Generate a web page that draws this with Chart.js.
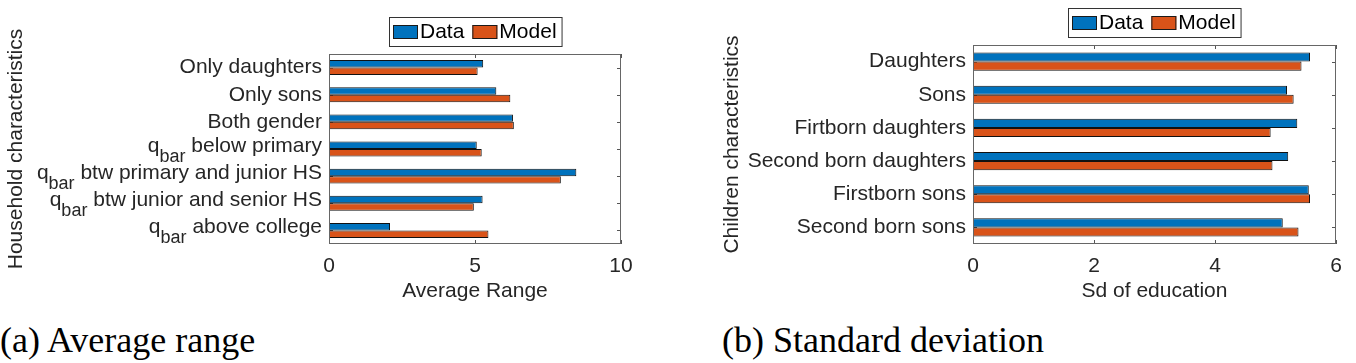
<!DOCTYPE html>
<html>
<head>
<meta charset="utf-8">
<script src="https://cdn.jsdelivr.net/npm/chart.js@4.4.1/dist/chart.umd.min.js"></script>
<style>
  body { margin: 0; background: #fff; width: 1356px; height: 363px; overflow: hidden; position: relative; }
  canvas { position: absolute; top: 0; }
  #left { left: 0; }
  #right { left: 678px; }
  .cap { position: absolute; top: 322px; font-family: 'Liberation Serif', serif; font-size: 36px; line-height: 36px; color: #000; white-space: nowrap; }
</style>
</head>
<body>
<canvas id="left" width="678" height="310"></canvas>
<canvas id="right" width="678" height="310"></canvas>
<div class="cap" style="left:0">(a) Average range</div>
<div class="cap" style="left:722px">(b) Standard deviation</div>
<script>
// values
const seriesNames = ['Data', 'Model'];

const householdGroups = ['Only daughters', 'Only sons', 'Both gender', 'q_bar below primary',
    'q_bar btw primary and junior HS', 'q_bar btw junior and senior HS', 'q_bar above college'];
const householdData = [5.28, 5.73, 6.30, 5.06, 8.47, 5.26, 2.09];
const householdModel = [5.09, 6.21, 6.33, 5.23, 7.94, 4.96, 5.46];
const householdTicks = [0, 5, 10];

const childGroups = ['Daughters', 'Sons', 'Firtborn daughters', 'Second born daughters',
    'Firstborn sons', 'Second born sons'];
const childData = [5.57, 5.19, 5.36, 5.21, 5.55, 5.12];
const childModel = [5.43, 5.30, 4.92, 4.95, 5.57, 5.38];
const childTicks = [0, 2, 4, 6];

const BLUE = '#0072BD';
const RED = '#D95319';
const FAMILY = "'Liberation Sans', Arial, sans-serif";
const MAIN = '21px ' + FAMILY;
const SUB = '18px ' + FAMILY;
const INK = '#262626';

Chart.defaults.font.family = FAMILY;
Chart.defaults.font.size = 21;
Chart.defaults.color = INK;

function drawCategory(ctx, label, xRight, y) {
    ctx.fillStyle = INK;
    ctx.textAlign = 'right';
    ctx.font = MAIN;
    if (!label.startsWith('q_bar ')) {
        ctx.textBaseline = 'middle';
        ctx.fillText(label, xRight, y);
        return;
    }
    // q with subscript "bar"
    ctx.textBaseline = 'alphabetic';
    const rest = ' ' + label.slice(6);
    const base = y + 3;
    ctx.fillText(rest, xRight, base);
    let x = xRight - ctx.measureText(rest).width;
    ctx.font = SUB;
    ctx.fillText('bar', x, base + 10);
    x -= ctx.measureText('bar').width;
    ctx.font = MAIN;
    ctx.fillText('q', x, base);
}

const matlabAxes = {
    id: 'matlabAxes',
    beforeDatasetsDraw(chart) {
        const {ctx, chartArea: a, scales} = chart;
        const L = Math.round(a.left), R = Math.round(a.right);
        const T = Math.round(a.top), B = Math.round(a.bottom);
        ctx.save();
        ctx.strokeStyle = '#555';
        ctx.lineWidth = 1;
        ctx.beginPath();
        scales.x.ticks.forEach(t => {
            const px = Math.round(scales.x.getPixelForValue(t.value)) + 0.5;
            ctx.moveTo(px, T); ctx.lineTo(px, T + 4);
            ctx.moveTo(px, B); ctx.lineTo(px, B - 4);
        });
        chart.data.labels.forEach((l, i) => {
            const py = Math.round(scales.y.getPixelForValue(i)) + 0.5;
            ctx.moveTo(L, py); ctx.lineTo(L + 4, py);
            ctx.moveTo(R, py); ctx.lineTo(R - 4, py);
        });
        ctx.stroke();
        ctx.restore();
    },
    afterDraw(chart) {
        const {ctx, chartArea: a, scales} = chart;
        const L = Math.round(a.left), R = Math.round(a.right);
        const T = Math.round(a.top), B = Math.round(a.bottom);
        ctx.save();
        // box
        ctx.strokeStyle = '#666';
        ctx.lineWidth = 1;
        ctx.strokeRect(L + 0.5, T + 0.5, R - L - 1, B - T - 1);

        // category labels
        chart.data.labels.forEach((l, i) => {
            drawCategory(ctx, l, L - 7, scales.y.getPixelForValue(i));
        });

        // legend in a box above the axes
        ctx.font = MAIN;
        const sw = 25, sh = 14;
        const items = chart.data.datasets.map(d => ({
            label: d.label, color: d.backgroundColor, w: ctx.measureText(d.label).width
        }));
        let total = 0;
        items.forEach((it, i) => { total += sw + 2 + it.w + (i ? 8 : 0); });
        const boxW = total + 9, boxH = 29;
        const boxL = Math.round((L + R) / 2 - boxW / 2);
        const boxT = T - 8 - boxH;
        ctx.fillStyle = '#fff';
        ctx.fillRect(boxL, boxT, boxW, boxH);
        ctx.strokeStyle = '#333';
        ctx.strokeRect(boxL + 0.5, boxT + 0.5, boxW, boxH);
        let x = boxL + 4;
        const cy = boxT + boxH / 2 + 0.5;
        ctx.textAlign = 'left';
        ctx.textBaseline = 'middle';
        items.forEach((it, i) => {
            if (i) x += 8;
            ctx.fillStyle = it.color;
            ctx.fillRect(x, Math.round(cy - sh / 2), sw, sh);
            ctx.strokeStyle = '#1a1a1a';
            ctx.strokeRect(x + 0.5, Math.round(cy - sh / 2) + 0.5, sw - 1, sh - 1);
            x += sw + 2;
            ctx.fillStyle = '#000';
            ctx.fillText(it.label, x, cy);
            x += it.w;
        });
        ctx.restore();
    }
};

function makePanel(id, groups, data, model, ticks, xTitle, yTitle, pad, yWidth) {
    new Chart(document.getElementById(id), {
        type: 'bar',
        data: {
            labels: groups,
            datasets: [
                { label: seriesNames[0], data: data, backgroundColor: BLUE },
                { label: seriesNames[1], data: model, backgroundColor: RED }
            ]
        },
        options: {
            indexAxis: 'y',
            responsive: false,
            animation: false,
            devicePixelRatio: 1,
            layout: { padding: pad },
            datasets: {
                bar: {
                    categoryPercentage: 0.55,
                    barPercentage: 1,
                    borderWidth: 1,
                    borderColor: '#111',
                    borderSkipped: false
                }
            },
            plugins: { legend: { display: false }, tooltip: { enabled: false } },
            scales: {
                x: {
                    min: ticks[0],
                    max: ticks[ticks.length - 1],
                    afterBuildTicks: s => { s.ticks = ticks.map(v => ({ value: v })); },
                    afterFit: s => { s.height = 66; },
                    grid: { display: false, drawTicks: false },
                    border: { display: false },
                    ticks: { padding: 10, color: INK, font: { size: 21 } },
                    title: { display: true, text: xTitle, color: INK, font: { size: 21 }, padding: { top: 0, bottom: 6 } }
                },
                y: {
                    afterFit: s => { s.width = yWidth; },
                    grid: { display: false, drawTicks: false },
                    border: { display: false },
                    ticks: { display: false },
                    title: { display: true, text: yTitle, color: INK, font: { size: 21 }, padding: { top: 4, bottom: 0 } }
                }
            }
        },
        plugins: [matlabAxes]
    });
}

makePanel('left', householdGroups, householdData, householdModel, householdTicks,
    'Average Range', 'Household characteristics',
    { top: 54, right: 57, bottom: 0, left: 0 }, 329);

makePanel('right', childGroups, childData, childModel, childTicks,
    'Sd of education', 'Children characteristics',
    { top: 45, right: 20, bottom: 0, left: 38 }, 257);
</script>
</body>
</html>
